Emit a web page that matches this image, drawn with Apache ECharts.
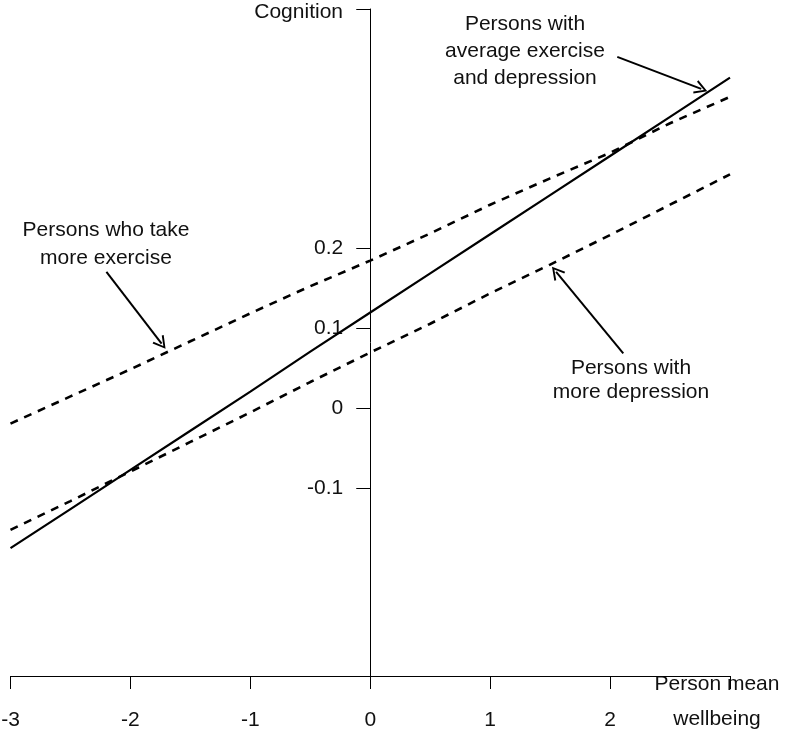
<!DOCTYPE html>
<html>
<head>
<meta charset="utf-8">
<script src="https://cdn.jsdelivr.net/npm/echarts@6/dist/echarts.min.js"></script>
<style>
html,body{margin:0;padding:0;background:#fff;}
#chart{width:788px;height:730px;}
</style>
</head>
<body>
<div id="chart"></div>
<script>
// ---- data ----
const xValues = [-3, -2.5, -2, -1.5, -1, -0.5, 0, 0.5, 1, 1.5, 2, 2.5, 3];
const averageValues = [-0.175, -0.126, -0.077, -0.028, 0.021, 0.071, 0.120, 0.169, 0.218, 0.267, 0.316, 0.365, 0.414];
const exerciseValues = [-0.019, 0.015, 0.049, 0.084, 0.119, 0.153, 0.185, 0.219, 0.255, 0.288, 0.320, 0.357, 0.390];
const depressionValues = [-0.152, -0.116, -0.079, -0.042, -0.005, 0.033, 0.070, 0.106, 0.144, 0.180, 0.217, 0.255, 0.293];

const xTickValues = [-3, -2, -1, 0, 1, 2, 3];
const xLabelValues = [-3, -2, -1, 0, 1, 2];
const yTickValues = [-0.1, 0, 0.1, 0.2, 0.5];
const yLabelValues = [-0.1, 0, 0.1, 0.2];
const yAxisCrossX = 0;

const exerciseArrow = [[-2.20, 0.171], [-1.74, 0.081]];
const averageArrow = [[2.06, 0.440], [2.76, 0.400]];
const depressionArrow = [[2.11, 0.069], [1.55, 0.171]];

const exerciseText = ['Persons who take', 'more exercise'];
const averageText = ['Persons with', 'average exercise', 'and depression'];
const depressionText = ['Persons with', 'more depression'];
const yName = 'Cognition';
const xName = ['Person mean', 'wellbeing'];

// ---- chart ----
const pairs = vals => xValues.map((x, i) => [x, vals[i]]);
const FONT = 'Liberation Sans';
const FS = 21;
const GRID = {left: 10.5, right: 58, top: 9, bottom: 54};
const CHEVRON = 'path://M0,0 L7,12 L5.2,12.8 L0,3.6 L-5.2,12.8 L-7,12 Z';
const arrowLine = pts => [{coord: pts[0], symbol: 'none'}, {coord: pts[1], symbol: CHEVRON}];

function textEl(t, x, y, align) {
  align = align || 'center';
  return {
    type: 'text', silent: true,
    style: {
      text: t, x: x, y: y,
      fontSize: FS, fontFamily: FONT, fill: '#111',
      align: align, verticalAlign: 'middle',
      textAlign: align, textVerticalAlign: 'middle'
    }
  };
}
function block(lines, cx, y0, lh) {
  return lines.map((t, i) => textEl(t, cx, y0 + i * lh));
}

const chart = echarts.init(document.getElementById('chart'), null, {renderer: 'canvas'});
const option = {
  animation: false,
  backgroundColor: '#fff',
  textStyle: {fontFamily: FONT},
  grid: Object.assign({containLabel: false, outerBoundsMode: 'none'}, GRID),
  xAxis: {
    type: 'value', min: -3, max: 3, interval: 1,
    axisLine: {onZero: false, lineStyle: {color: '#000', width: 1}},
    axisTick: {show: true, length: 13, customValues: xTickValues, lineStyle: {color: '#000'}},
    axisLabel: {customValues: xLabelValues, margin: 34, fontSize: FS, color: '#111', fontFamily: FONT},
    splitLine: {show: false}
  },
  yAxis: {
    type: 'value', min: -0.335, max: 0.5, position: 'left', offset: 0,
    axisLine: {show: true, onZero: false, lineStyle: {color: '#000', width: 1}},
    axisTick: {show: true, length: 14, customValues: yTickValues, lineStyle: {color: '#000'}},
    axisLabel: {customValues: yLabelValues, margin: 27, fontSize: FS, color: '#111', fontFamily: FONT},
    splitLine: {show: false}
  },
  series: [
    {
      name: 'average', type: 'line', data: pairs(averageValues), symbol: 'none',
      lineStyle: {color: '#000', width: 2.2}, z: 3,
      markLine: {
        silent: true, symbolSize: [14, 13], label: {show: false},
        itemStyle: {color: '#000'},
        lineStyle: {color: '#000', width: 2, type: 'solid'},
        data: [arrowLine(exerciseArrow), arrowLine(averageArrow), arrowLine(depressionArrow)]
      }
    },
    {
      name: 'exercise', type: 'line', data: pairs(exerciseValues), symbol: 'none',
      lineStyle: {color: '#000', width: 2.6, type: [8, 7]}
    },
    {
      name: 'depression', type: 'line', data: pairs(depressionValues), symbol: 'none',
      lineStyle: {color: '#000', width: 2.6, type: [8, 7]}
    }
  ],
  graphic: [].concat(
    [textEl(yName, 343, 12, 'right')],
    [textEl(xName[0], 717, 684), textEl(xName[1], 717, 719)],
    block(exerciseText, 106, 230, 28),
    block(averageText, 525, 24, 27),
    block(depressionText, 631, 368, 24)
  )
};
chart.setOption(option);
// move the y axis so it crosses the x axis at yAxisCrossX (pixel from the x scale)
const crossPx = chart.convertToPixel({xAxisIndex: 0}, yAxisCrossX);
chart.setOption({yAxis: {offset: -(crossPx - GRID.left)}});
</script>
</body>
</html>
